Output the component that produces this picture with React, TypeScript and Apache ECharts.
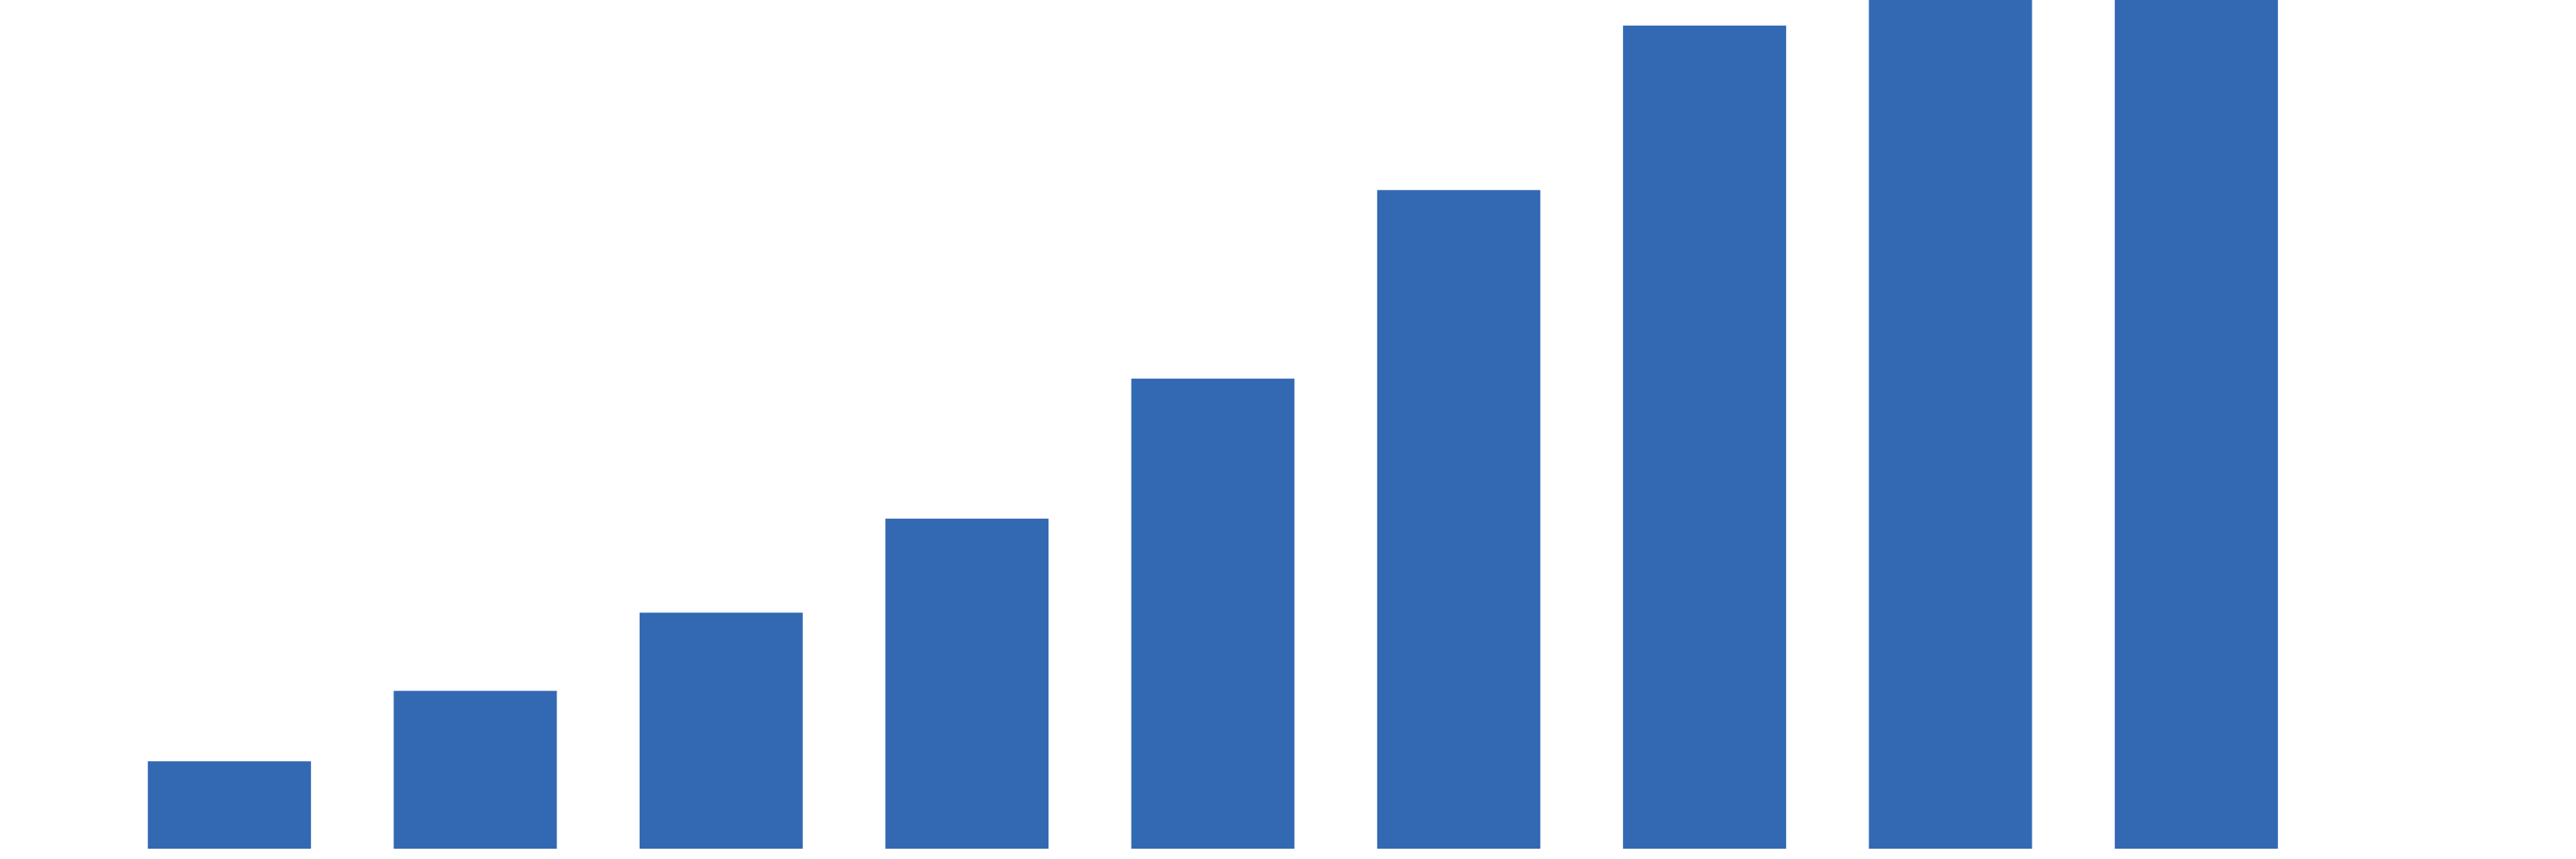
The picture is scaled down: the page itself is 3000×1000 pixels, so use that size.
import React, { useEffect, useRef } from "react";
import * as echarts from "echarts";

// nine bars, the last two run past the top of the picture
const categories = ["1", "2", "3", "4", "5", "6", "7", "8", "9"];
const values = [10.3, 18.6, 27.8, 38.9, 55.4, 77.6, 97.0, 125, 160];
const yMax = 100;

const App: React.FC = () => {
  const chartRef = useRef<HTMLDivElement>(null);

  useEffect(() => {
    if (!chartRef.current) return;
    const chart = echarts.init(chartRef.current, undefined, { renderer: "svg" });

    const option = {
      animation: false,
      backgroundColor: "#ffffff",
      grid: { left: 124, right: 299, top: 0, bottom: 12 },
      xAxis: {
        type: "category",
        data: categories,
        boundaryGap: true,
        axisLine: { show: false },
        axisTick: { show: false },
        axisLabel: { show: false },
      },
      yAxis: {
        type: "value",
        min: 0,
        max: yMax,
        axisLine: { show: false },
        axisTick: { show: false },
        axisLabel: { show: false },
        splitLine: { show: false },
      },
      series: [
        {
          type: "bar",
          data: values,
          barWidth: 190,
          clip: true,
          itemStyle: { color: "#3368b3" },
        },
      ],
    };

    chart.setOption(option);

    return () => {
      chart.dispose();
    };
  }, []);

  return (
    <div
      ref={chartRef}
      style={{ position: "fixed", left: 0, top: 0, width: 3000, height: 1000 }}
    />
  );
};

export default App;
